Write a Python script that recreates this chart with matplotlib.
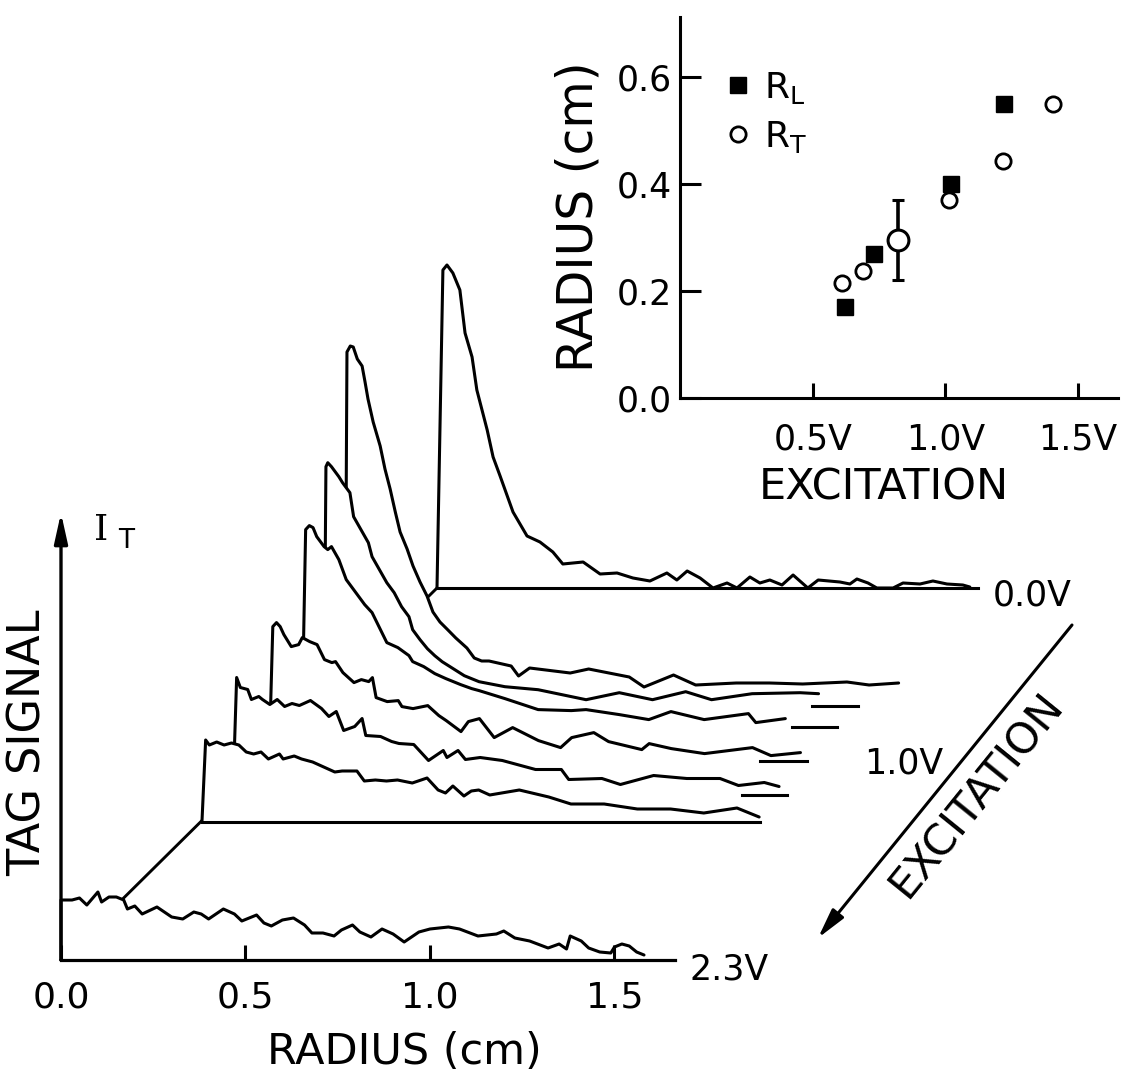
import numpy as np
import matplotlib
matplotlib.use("Agg")
import matplotlib.pyplot as plt
from matplotlib.lines import Line2D

plt.rcParams['font.family'] = ['DejaVu Sans']
plt.rcParams['mathtext.default'] = 'regular'

# ---- waterfall traces: radius (cm) from the start of each trace, tag signal (arb. units)
# 0.0V excitation (back)
r_00 = [0.016, 0.027, 0.043, 0.062, 0.076, 0.095, 0.108, 0.136, 0.152, 0.171,
        0.206, 0.244, 0.279, 0.314, 0.341, 0.396, 0.442, 0.488, 0.531, 0.577,
        0.623, 0.650, 0.678, 0.713, 0.748, 0.786, 0.813, 0.848, 0.875, 0.902,
        0.935, 0.965, 1.005, 1.033, 1.092, 1.119, 1.138, 1.168, 1.192, 1.236,
        1.263, 1.309, 1.344, 1.382, 1.425, 1.444]
s_00 = [3.18, 3.23, 3.15, 2.98, 2.55, 2.31, 1.98, 1.58, 1.31, 1.12,
        0.76, 0.52, 0.46, 0.36, 0.24, 0.26, 0.14, 0.15, 0.10, 0.07,
        0.15, 0.08, 0.17, 0.10, 0.00, 0.05, 0.00, 0.11, 0.05, 0.08,
        0.03, 0.13, 0.00, 0.08, 0.06, 0.04, 0.09, 0.05, 0.00, 0.00,
        0.05, 0.04, 0.07, 0.04, 0.03, 0.01]
# 0.6V
r_06 = [0.005, 0.014, 0.022, 0.033, 0.046, 0.054, 0.062, 0.076, 0.095, 0.108,
        0.122, 0.136, 0.149, 0.168, 0.184, 0.203, 0.222, 0.238, 0.257, 0.276,
        0.30, 0.33, 0.35, 0.37, 0.39, 0.45, 0.47, 0.50, 0.61, 0.66,
        0.77, 0.81, 0.89, 0.95, 1.06, 1.15, 1.24, 1.36, 1.42, 1.50]
s_06 = [3.36, 3.42, 3.41, 3.29, 3.22, 3.06, 2.89, 2.66, 2.42, 2.19,
        1.99, 1.76, 1.56, 1.39, 1.22, 1.06, 0.92, 0.76, 0.66, 0.59,
        0.50, 0.40, 0.30, 0.27, 0.27, 0.22, 0.12, 0.20, 0.15, 0.19,
        0.11, 0.01, 0.13, 0.03, 0.05, 0.05, 0.04, 0.06, 0.03, 0.05]
# 0.7V
r_07 = [0.005, 0.01, 0.02, 0.04, 0.05, 0.07, 0.08, 0.10, 0.12, 0.13,
        0.15, 0.17, 0.19, 0.21, 0.23, 0.24, 0.26, 0.28, 0.30, 0.32,
        0.35, 0.38, 0.40, 0.42, 0.49, 0.58, 0.71, 0.80, 0.89, 0.98,
        1.05, 1.16, 1.29, 1.34]
s_07 = [2.39, 2.43, 2.39, 2.29, 2.23, 2.13, 1.89, 1.76, 1.63, 1.49,
        1.36, 1.23, 1.13, 0.99, 0.89, 0.76, 0.66, 0.57, 0.50, 0.44,
        0.37, 0.30, 0.27, 0.24, 0.19, 0.16, 0.06, 0.13, 0.06, 0.14,
        0.06, 0.12, 0.13, 0.12]
# 0.8V
r_08 = [0.01, 0.02, 0.03, 0.04, 0.06, 0.07, 0.08, 0.10, 0.12, 0.14,
        0.17, 0.19, 0.21, 0.23, 0.26, 0.29, 0.30, 0.33, 0.36, 0.39,
        0.43, 0.46, 0.48, 0.55, 0.64, 0.73, 0.77, 0.86, 0.94, 1.00,
        1.09, 1.21, 1.23, 1.31]
s_08 = [1.97, 2.01, 1.99, 1.90, 1.80, 1.77, 1.80, 1.67, 1.47, 1.37,
        1.22, 1.14, 0.99, 0.84, 0.79, 0.71, 0.65, 0.60, 0.53, 0.48,
        0.42, 0.38, 0.36, 0.28, 0.17, 0.16, 0.17, 0.12, 0.07, 0.15,
        0.07, 0.13, 0.04, 0.08]
# 1.0V
r_10 = [0.01, 0.02, 0.03, 0.04, 0.06, 0.08, 0.09, 0.11, 0.13, 0.15,
        0.17, 0.18, 0.20, 0.23, 0.25, 0.27, 0.28, 0.29, 0.32, 0.35,
        0.36, 0.39, 0.43, 0.46, 0.48, 0.52, 0.54, 0.57, 0.61, 0.66,
        0.73, 0.79, 0.82, 0.88, 0.92, 1.01, 1.03, 1.09, 1.18, 1.31,
        1.36, 1.44]
s_10 = [1.34, 1.38, 1.34, 1.26, 1.14, 1.16, 1.23, 1.19, 1.16, 1.01,
        0.98, 0.99, 0.88, 0.78, 0.81, 0.79, 0.83, 0.63, 0.59, 0.60,
        0.54, 0.52, 0.55, 0.45, 0.40, 0.29, 0.39, 0.42, 0.23, 0.33,
        0.20, 0.13, 0.23, 0.28, 0.19, 0.11, 0.17, 0.12, 0.07, 0.13,
        0.05, 0.08]
# 1.2V
r_12 = [0.01, 0.02, 0.04, 0.05, 0.07, 0.08, 0.10, 0.12, 0.14, 0.16,
        0.18, 0.21, 0.24, 0.26, 0.28, 0.30, 0.33, 0.35, 0.36, 0.40,
        0.43, 0.45, 0.49, 0.53, 0.57, 0.58, 0.61, 0.63, 0.67, 0.73,
        0.82, 0.89, 0.91, 1.00, 1.05, 1.14, 1.23, 1.32, 1.37, 1.44,
        1.48]
s_12 = [1.17, 1.07, 1.05, 0.95, 0.98, 0.95, 0.90, 0.95, 0.88, 0.91,
        0.89, 0.94, 0.86, 0.78, 0.83, 0.64, 0.68, 0.76, 0.59, 0.58,
        0.53, 0.51, 0.50, 0.34, 0.44, 0.37, 0.44, 0.35, 0.37, 0.34,
        0.25, 0.25, 0.15, 0.16, 0.10, 0.19, 0.16, 0.16, 0.09, 0.12,
        0.08]
# 1.4V
r_14 = [0.01, 0.02, 0.04, 0.06, 0.08, 0.10, 0.12, 0.14, 0.16, 0.18,
        0.21, 0.22, 0.25, 0.27, 0.30, 0.33, 0.36, 0.38, 0.42, 0.44,
        0.47, 0.50, 0.53, 0.57, 0.61, 0.64, 0.66, 0.68, 0.71, 0.73,
        0.75, 0.78, 0.86, 0.94, 1.00, 1.09, 1.18, 1.27, 1.36, 1.45,
        1.51]
s_14 = [0.82, 0.77, 0.80, 0.77, 0.79, 0.77, 0.70, 0.68, 0.70, 0.63,
        0.68, 0.63, 0.66, 0.63, 0.60, 0.55, 0.50, 0.51, 0.51, 0.41,
        0.42, 0.41, 0.42, 0.39, 0.44, 0.32, 0.29, 0.36, 0.26, 0.31,
        0.32, 0.27, 0.32, 0.25, 0.18, 0.18, 0.13, 0.13, 0.09, 0.14,
        0.05]
# 2.3V (front)
r_23 = [0.00, 0.03, 0.05, 0.07, 0.10, 0.11, 0.13, 0.15, 0.17, 0.18,
        0.20, 0.22, 0.26, 0.30, 0.33, 0.36, 0.38, 0.40, 0.44, 0.47,
        0.49, 0.53, 0.55, 0.57, 0.60, 0.63, 0.66, 0.68, 0.71, 0.74,
        0.76, 0.79, 0.81, 0.84, 0.87, 0.90, 0.93, 0.97, 1.00, 1.05,
        1.08, 1.13, 1.18, 1.20, 1.23, 1.27, 1.32, 1.35, 1.37, 1.38,
        1.41, 1.43, 1.46, 1.49, 1.50, 1.52, 1.54, 1.56, 1.58]
s_23 = [0.60, 0.60, 0.62, 0.55, 0.68, 0.58, 0.63, 0.63, 0.60, 0.51,
        0.54, 0.46, 0.53, 0.43, 0.41, 0.48, 0.46, 0.41, 0.51, 0.46,
        0.39, 0.45, 0.37, 0.34, 0.40, 0.42, 0.35, 0.27, 0.27, 0.24,
        0.30, 0.35, 0.28, 0.23, 0.31, 0.26, 0.18, 0.28, 0.31, 0.33,
        0.31, 0.24, 0.26, 0.29, 0.22, 0.19, 0.12, 0.16, 0.11, 0.24,
        0.19, 0.12, 0.08, 0.07, 0.13, 0.16, 0.14, 0.08, 0.05]

trace_r = [r_00, r_06, r_07, r_08, r_10, r_12, r_14, r_23]
trace_s = [s_00, s_06, s_07, s_08, s_10, s_12, s_14, s_23]
# where each trace sits along the excitation axis (radius shift, signal shift)
shift_r = [1.019, 0.770, 0.713, 0.653, 0.564, 0.466, 0.382, 0.0]
shift_s = [3.72, 2.72, 2.543, 2.334, 1.994, 1.655, 1.38, 0.0]
# drawn piece of each trace's zero line (None = not drawn)
base_from = [0.0, None, 1.322, 1.328, 1.331, 1.379, 0.0, None]
base_to = [1.466, None, 1.447, 1.450, 1.458, 1.501, 1.512, None]

# ---- inset: radius vs excitation
rl_volts = [0.62, 0.73, 1.02, 1.22]
rl_radius = [0.17, 0.27, 0.40, 0.55]
rt_volts = [0.61, 0.69, 0.82, 1.015, 1.215, 1.405]
rt_radius = [0.215, 0.237, 0.295, 0.37, 0.443, 0.55]
err_idx = 2
err_low, err_high = 0.22, 0.37

W, H = 1122, 1079
fig = plt.figure(figsize=(W / 100, H / 100), dpi=100)

# main waterfall
ax = fig.add_axes([61 / W, 119 / H, 614 / W, 447 / H])
ax.set_xlim(0, 1.664)
ax.set_ylim(0, 4.47)

# excitation spine through the trace origins, hidden by the traces in front
ax.plot([shift_r[-1], shift_r[0]], [shift_s[-1], shift_s[0]], color='k', lw=2.1,
        zorder=1, clip_on=False)

for i in range(len(trace_r)):
    z = 2 + 2 * i
    x = shift_r[i] + np.r_[0.0, trace_r[i]]
    y = shift_s[i] + np.r_[0.0, trace_s[i]]
    ax.fill_between(x, shift_s[i], y, color='white', lw=0, zorder=z, clip_on=False)
    ax.plot(x, y, color='k', lw=2.2, zorder=z + 1, clip_on=False,
            solid_joinstyle='round', solid_capstyle='round')
    if base_from[i] is not None:
        ax.plot([shift_r[i] + base_from[i], shift_r[i] + base_to[i]],
                [shift_s[i], shift_s[i]], color='k', lw=2.2, zorder=z + 1,
                clip_on=False)

for side in ['top', 'right', 'left']:
    ax.spines[side].set_visible(False)
ax.spines['bottom'].set_linewidth(2.3)
ax.spines['bottom'].set_zorder(40)
ax.xaxis.set_zorder(40)
ax.set_yticks([])
ax.set_xticks([0.0, 0.5, 1.0, 1.5])
ax.set_xticklabels(['0.0', '0.5', '1.0', '1.5'])
ax.tick_params(axis='x', direction='in', length=11, width=2.2, labelsize=26, pad=15)

ax.annotate('', xy=(0, 4.47), xytext=(0, 0),
            arrowprops=dict(arrowstyle='-|>,head_length=0.9,head_width=0.2',
                            color='k', lw=2.4, mutation_scale=20, shrinkA=0, shrinkB=0),
            annotation_clip=False, zorder=41)

ax.set_xlabel('RADIUS (cm)', fontsize=31)
ax.xaxis.set_label_coords((404 - 61) / 614, (960 - 1052) / 447)
ax.xaxis.label.set_va('center')
ax.set_ylabel('TAG SIGNAL', fontsize=32)
ax.yaxis.set_label_coords((28 - 61) / 614, (960 - 743) / 447)
ax.yaxis.label.set_va('center')

ax.text((101 - 61) / 614, (960 - 530) / 447, 'I', transform=ax.transAxes,
        family='DejaVu Serif', fontsize=26, ha='center', va='center')
ax.text((126 - 61) / 614, (960 - 541) / 447, 'T', transform=ax.transAxes,
        fontsize=19, ha='center', va='center')

ax.text(shift_r[0] + base_to[0] + 0.04, shift_s[0] - 0.08, '0.0V', fontsize=25,
        ha='left', va='center')
ax.text(shift_r[4] + base_to[4] + 0.155, shift_s[4] - 0.03, '1.0V', fontsize=25,
        ha='left', va='center')
ax.text(1.664 + 0.04, -0.1, '2.3V', fontsize=25, ha='left', va='center',
        clip_on=False)

# excitation direction arrow
ax.annotate('', xy=(818, H - 938), xytext=(1072, H - 625),
            xycoords='figure pixels', textcoords='figure pixels',
            arrowprops=dict(arrowstyle='-|>,head_length=0.9,head_width=0.22',
                            color='k', lw=2.2, mutation_scale=20, shrinkA=0, shrinkB=0),
            annotation_clip=False)
fig.text(977 / W, 1 - 795 / H, 'EXCITATION', rotation=51, fontsize=31,
         ha='center', va='center', rotation_mode='anchor')

# inset
ax2 = fig.add_axes([680 / W, 1 - 398 / H, 438 / W, 381 / H])
ax2.set_xlim(0, 1.65)
ax2.set_ylim(0, 0.712)
ax2.spines['top'].set_visible(False)
ax2.spines['right'].set_visible(False)
ax2.spines['left'].set_linewidth(2.2)
ax2.spines['bottom'].set_linewidth(2.2)
ax2.set_xticks([0.5, 1.0, 1.5])
ax2.set_xticklabels(['0.5V', '1.0V', '1.5V'])
ax2.set_yticks([0.0, 0.2, 0.4, 0.6])
ax2.set_yticklabels(['0.0', '0.2', '0.4', '0.6'])
ax2.tick_params(axis='x', direction='in', length=11, width=2.2, labelsize=25, pad=18)
ax2.tick_params(axis='y', direction='in', length=15, width=2.2, labelsize=25, pad=6)

ax2.plot(rl_volts, rl_radius, ls='none', marker='s', ms=11, color='k', zorder=3)
ax2.plot(rt_volts, rt_radius, ls='none', marker='o', ms=11, mfc='white', mec='k',
         mew=2, zorder=4)
ax2.errorbar([rt_volts[err_idx]], [rt_radius[err_idx]],
             yerr=[[rt_radius[err_idx] - err_low], [err_high - rt_radius[err_idx]]],
             fmt='o', ms=15, mfc='white', mec='k', mew=2.2, ecolor='k',
             elinewidth=2.6, capsize=4.5, capthick=2.6, zorder=5)

h_rl = Line2D([], [], ls='none', marker='s', ms=11, color='k')
h_rt = Line2D([], [], ls='none', marker='o', ms=11, mfc='white', mec='k', mew=2)
ax2.legend([h_rl, h_rt], ['R$_L$', 'R$_T$'], loc='center left',
           bbox_to_anchor=(0.10, 0.75), frameon=False, fontsize=26,
           handlelength=0.8, handletextpad=0.3, labelspacing=0.35,
           borderpad=0, borderaxespad=0, numpoints=1)

ax2.set_ylabel('RADIUS (cm)', fontsize=35)
ax2.yaxis.set_label_coords(-0.231, 0.475)
ax2.yaxis.label.set_va('center')
ax2.set_xlabel('EXCITATION', fontsize=31)
ax2.xaxis.set_label_coords((884 - 680) / 438, (398 - 488) / 381)
ax2.xaxis.label.set_va('center')

fig.savefig('out.png', dpi=100)
